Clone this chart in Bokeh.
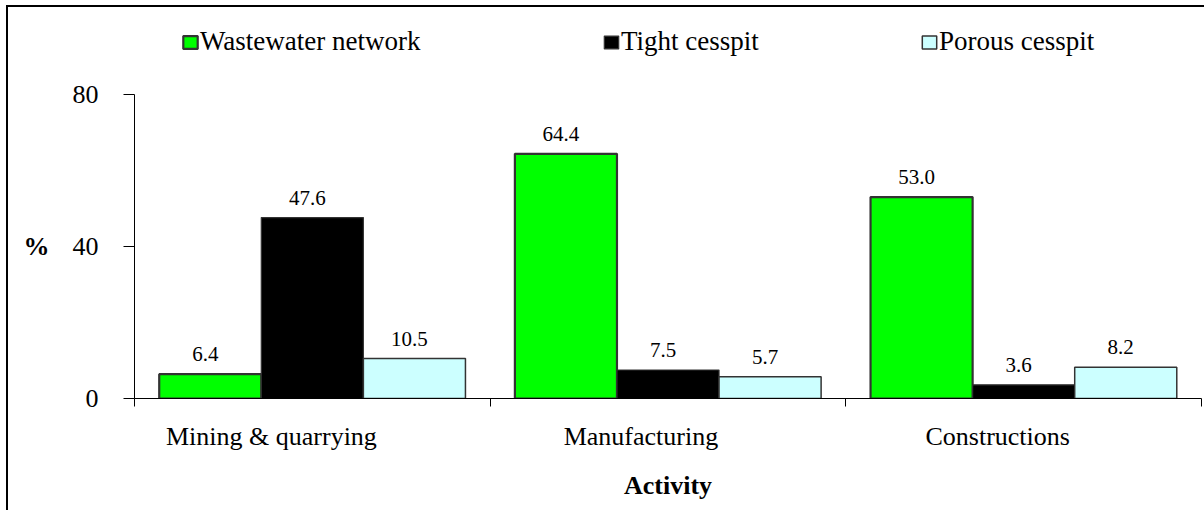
from bokeh.plotting import figure
from bokeh.models import (ColumnDataSource, Range1d, FixedTicker, Legend, LegendItem, LabelSet)
from bokeh.transform import dodge
from bokeh.embed import file_html
from bokeh.resources import INLINE

# ---- data ----
categories = ["Mining & quarrying", "Manufacturing", "Constructions"]
series_names = ["Wastewater network", "Tight cesspit", "Porous cesspit"]
wastewater = [6.4, 64.4, 53.0]
tight = [47.6, 7.5, 3.6]
porous = [10.5, 5.7, 8.2]
y_ticks = [0, 40, 80]
y_max = 80

FONT = "Liberation Serif"
colors = ["#00FF00", "#000000", "#CCFFFF"]
outline_w = [2.2, 1.2, 1.5]
bar_w = 0.287
offsets = [-bar_w, 0.0, bar_w]
label_shift = [-0.115, -0.076, -0.073]   # category label placement (layout)

W, H = 1204, 510
BOTTOM = 112          # space below plot area
AXIS_PX = 304         # pixel height of the 0..80 value axis
frame_h = H - BOTTOM

src = ColumnDataSource(dict(
    x=[i + 0.5 for i in range(len(categories))],
    cat=categories,
    w=wastewater, t=tight, p=porous,
    wl=["%.1f" % v for v in wastewater],
    tl=["%.1f" % v for v in tight],
    pl=["%.1f" % v for v in porous],
))

# plot frame reaches the top of the canvas so the legend (drawn inside) is not clipped;
# the value axis itself is bounded to 0..80
p = figure(width=W, height=H, x_range=Range1d(0, 3),
           y_range=Range1d(0, y_max * frame_h / AXIS_PX),
           output_backend="svg", toolbar_location=None,
           min_border_left=134, min_border_right=3, min_border_top=0, min_border_bottom=BOTTOM,
           styles={"box-shadow": "inset 6px 5px 0 0 white, inset 8px 7px 0 0 black"})
p.outline_line_color = None
p.xgrid.visible = False
p.ygrid.visible = False
p.background_fill_alpha = 0
p.border_fill_alpha = 0

renderers = []
for col, lab, off, c, lw in zip(["w", "t", "p"], ["wl", "tl", "pl"], offsets, colors, outline_w):
    r = p.vbar(x=dodge("x", off, range=p.x_range), top=col, width=bar_w, source=src,
               fill_color=c, line_color="#333333", line_width=lw)
    renderers.append(r)
    ls = LabelSet(x=dodge("x", off, range=p.x_range), y=col, text=lab, source=src,
                  text_align="center", text_baseline="alphabetic", y_offset=13, x_offset=-5,
                  text_font=FONT, text_font_size="21px", text_color="black")
    p.add_layout(ls)

# y axis
ya = p.yaxis[0]
ya.bounds = (0, y_max)
ya.ticker = FixedTicker(ticks=y_ticks)
ya.minor_tick_line_color = None
ya.major_tick_in = 0
ya.major_tick_out = 11
ya.major_label_standoff = 25
ya.major_label_text_font = FONT
ya.major_label_text_font_size = "26px"
ya.major_label_text_color = "black"
ya.axis_label = "\n\n\n%"     # blank lines bring the label down level with the 40 tick
ya.axis_label_orientation = "horizontal"
ya.axis_label_text_font = FONT
ya.axis_label_text_font_size = "26px"
ya.axis_label_text_font_style = "bold"
ya.axis_label_text_line_height = 1.08
ya.axis_label_text_color = "black"
ya.axis_label_standoff = 20
ya.axis_line_color = "black"
ya.major_tick_line_color = "black"

# x axis: category labels, boundary ticks drawn as minor ticks
xa = p.xaxis[0]
label_pos = [round(i + 0.5 + s, 3) for i, s in enumerate(label_shift)]
xa.ticker = FixedTicker(ticks=label_pos, minor_ticks=list(range(len(categories) + 1)))
xa.major_label_overrides = {pos: cat for pos, cat in zip(label_pos, categories)}
xa.major_tick_in = 0
xa.major_tick_out = 0
xa.minor_tick_in = 0
xa.minor_tick_out = 8
xa.minor_tick_line_color = "black"
xa.major_label_standoff = 15
xa.major_label_text_font = FONT
xa.major_label_text_font_size = "26px"
xa.major_label_text_color = "black"
xa.axis_line_color = "black"
xa.axis_label = "Activity"
xa.axis_label_text_font = FONT
xa.axis_label_text_font_size = "26px"
xa.axis_label_text_font_style = "bold"
xa.axis_label_text_color = "black"
xa.axis_label_standoff = 17

# legend entries, one box per series, placed across the top
legend_x = [47, 468, 786]
for r, name, lx in zip(renderers, series_names, legend_x):
    lg = Legend(items=[LegendItem(label=name, renderers=[r])], location=(lx, 341),
                glyph_width=18, glyph_height=16, label_standoff=1, padding=0, margin=0,
                spacing=0, border_line_alpha=0, background_fill_alpha=0,
                label_text_font=FONT, label_text_font_size="27px", label_text_color="black")
    p.add_layout(lg, "center")

open("out.html", "w").write(file_html(p, INLINE))
